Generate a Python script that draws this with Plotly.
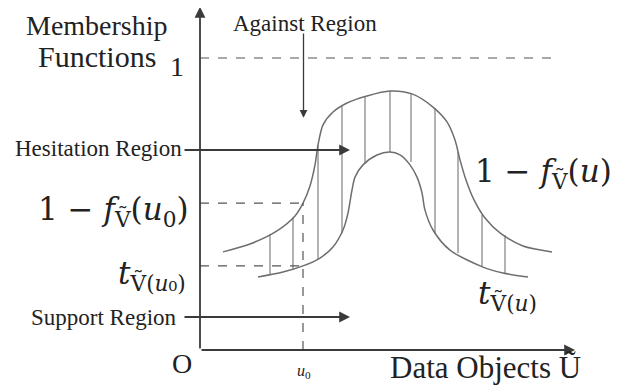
import plotly.graph_objects as go

# upper boundary 1 - f_V(u) and lower boundary t_V(u)
upper_u = [0.23, 0.50, 0.77, 0.95, 1.03, 1.10, 1.15, 1.18, 1.23, 1.33, 1.47, 1.67, 1.90,
           2.12, 2.33, 2.47, 2.55, 2.60, 2.66, 2.74, 2.85, 3.00, 3.23, 3.52]
upper_m = [0.336, 0.363, 0.408, 0.459, 0.503, 0.562, 0.634, 0.702, 0.771, 0.815, 0.846, 0.870, 0.887,
           0.877, 0.832, 0.781, 0.719, 0.651, 0.582, 0.514, 0.452, 0.401, 0.356, 0.336]
lower_u = [0.58, 0.83, 1.03, 1.20, 1.33, 1.43, 1.48, 1.52, 1.55, 1.63, 1.77, 1.90,
           2.00, 2.10, 2.17, 2.22, 2.25, 2.33, 2.50, 2.83, 3.03, 3.28]
lower_m = [0.250, 0.267, 0.288, 0.315, 0.353, 0.411, 0.469, 0.548, 0.592, 0.634, 0.668, 0.678,
           0.668, 0.634, 0.592, 0.538, 0.479, 0.411, 0.342, 0.284, 0.264, 0.250]

# vertical hatching of the hesitation region
hatch_u = [0.70, 0.93, 1.18, 1.42, 1.65, 1.90, 2.11, 2.35, 2.58, 2.82, 3.05]
hatch_top = [0.397, 0.455, 0.702, 0.839, 0.870, 0.887, 0.877, 0.829, 0.678, 0.462, 0.394]
hatch_bottom = [0.260, 0.277, 0.312, 0.400, 0.640, 0.678, 0.644, 0.397, 0.332, 0.288, 0.264]

u0 = 1.03
f_u0 = 0.503
t_u0 = 0.288
u_max = 3.75
m_max = 1.175

SERIF = "Liberation Serif, Times New Roman, serif"
MATH = "DejaVu Serif, serif"
INK = "#3a3a3a"
CURVE = "#6e6e6e"

fig = go.Figure()

hx, hy = [], []
for u, top, bot in zip(hatch_u, hatch_top, hatch_bottom):
    hx += [u, u, None]
    hy += [bot, top, None]
fig.add_trace(go.Scatter(x=hx, y=hy, mode="lines", line=dict(color="#808080", width=1.2),
                         hoverinfo="skip"))

fig.add_trace(go.Scatter(x=upper_u, y=upper_m, mode="lines",
                         line=dict(color=CURVE, width=1.5, shape="spline", smoothing=0.8)))
fig.add_trace(go.Scatter(x=lower_u, y=lower_m, mode="lines",
                         line=dict(color=CURVE, width=1.5, shape="spline", smoothing=0.8)))

# dashed guide lines
dash = dict(color="#555555", width=1.2, dash="dash")
fig.add_trace(go.Scatter(x=[0, 3.53], y=[1, 1], mode="lines", line=dash))
fig.add_trace(go.Scatter(x=[0, u0], y=[f_u0, f_u0], mode="lines", line=dash))
fig.add_trace(go.Scatter(x=[0, u0], y=[t_u0, t_u0], mode="lines", line=dash))
fig.add_trace(go.Scatter(x=[u0, u0], y=[0, f_u0], mode="lines", line=dash))


def arrow(x0, y0, x1, y1, width=1.6):
    fig.add_annotation(x=x1, y=y1, ax=x0, ay=y0, xref="x", yref="y", axref="x", ayref="y",
                       text="", showarrow=True, arrowhead=2, arrowsize=1.2,
                       arrowwidth=width, arrowcolor=INK)


# axes
arrow(0, 0, u_max, 0, 1.8)
arrow(0, 0, 0, m_max, 1.8)
# region pointers
arrow(1.035, 1.089, 1.035, 0.795, 1.3)
arrow(-0.17, 0.685, 1.50, 0.685, 1.8)
arrow(-0.17, 0.113, 1.50, 0.113, 1.8)


def label(x, y, text, size, xanchor="center", yanchor="middle", family=SERIF):
    fig.add_annotation(x=x, y=y, xref="x", yref="y", text=text, showarrow=False,
                       xanchor=xanchor, yanchor=yanchor,
                       font=dict(family=family, size=size, color="#222222"))


label(-1.03, 1.112, "Membership", 28)
label(-1.03, 1.005, "Functions", 30)
label(-0.23, 0.972, "1", 28)
label(1.05, 1.118, "Against Region", 23)
label(-0.16, 0.690, "Hesitation Region", 23, xanchor="right")
label(-0.21, 0.110, "Support Region", 23, xanchor="right")
label(-0.09, 0.475, "1 − <i>f</i><sub>Ṽ</sub>(<i>u</i><sub>0</sub>)", 31, xanchor="right", family=MATH)
label(-0.12, 0.255, "<i>t</i><sub>Ṽ(<i>u</i>₀)</sub>", 31, xanchor="right", family=MATH)
label(2.73, 0.605, "1 − <i>f</i><sub>Ṽ</sub>(<i>u</i>)", 31, xanchor="left", family=MATH)
label(2.76, 0.185, "<i>t</i><sub>Ṽ(<i>u</i>)</sub>", 31, xanchor="left", family=MATH)
label(-0.18, -0.045, "O", 28)
label(1.04, -0.075, "<i>u</i><sub>0</sub>", 16)
label(2.85, -0.060, "Data Objects Ũ", 31)

fig.update_layout(
    width=620, height=392,
    margin=dict(l=0, r=0, t=0, b=0),
    showlegend=False,
    plot_bgcolor="white",
    paper_bgcolor="white",
    # page body keeps its 8px margin, so the ranges are shifted to line up with the window
    xaxis=dict(range=[-1.92, 4.28], visible=False, fixedrange=True),
    yaxis=dict(range=[-0.1712, 1.1712], visible=False, fixedrange=True),
)

fig.write_html("out.html")
